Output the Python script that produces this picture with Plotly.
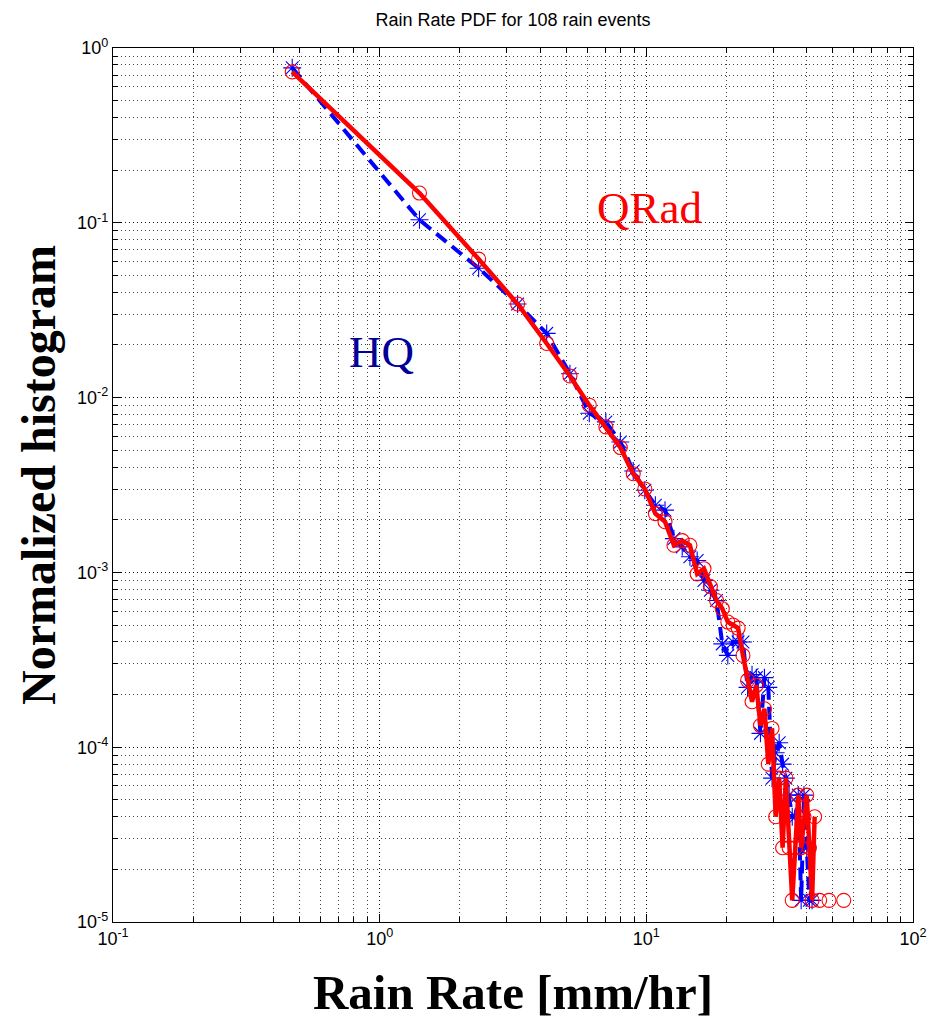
import plotly.graph_objects as go

rain_rate = [0.47, 1.41, 2.35, 3.29, 4.23, 5.17, 6.11, 7.05, 7.99, 8.93,
             9.87, 10.81, 11.75, 12.69, 13.63, 14.57, 15.51, 16.45, 17.39, 18.33,
             19.27, 20.21, 21.15, 22.09, 23.03, 23.97, 24.91, 25.85, 26.79, 27.73,
             28.67, 29.61, 30.55, 31.49, 32.43, 33.37, 34.31, 35.25, 36.19, 37.13,
             38.07, 39.01, 39.95, 40.89, 41.83, 42.77, 43.71, 44.65, 45.59, 46.53,
             47.47, 48.41, 49.35, 50.29, 51.23, 52.17, 53.11, 54.05, 54.99]

qrad = [0.73, 0.148, 0.062, 0.0343, 0.0204, 0.0133, 0.00905, 0.0068, 0.00518, 0.00367,
        0.0030, 0.00217, 0.00195, 0.00143, 0.00152, 0.00143, 0.00098, 0.00105, 0.00083, 0.00069,
        0.00062, 0.00052, 0.00050, 0.00048, 0.000335, 0.000241, 0.000182, 0.000226, 0.000133, 0.000166,
        0.0000800, 0.000128, 0.0000400, 0.0000665, 0.0000266, 0.0000665, 0.0000266, 0.0000133, 0.0000266, 0.0000532,
        0.0000266, 0.0000400, 0.0000532, 0.0000266, 0.0000133, 0.0000400, None, 0.0000133, None, None,
        None, 0.0000133, None, None, None, None, None, None, 0.0000133]

hq = [0.77, 0.104, 0.055, 0.0343, 0.0233, 0.0137, 0.00814, 0.00726, 0.00557, 0.0038,
      0.00295, 0.00242, 0.00227, 0.00156, 0.0014, 0.00123, 0.00117, 0.0009, 0.00079, 0.00069,
      0.00039, 0.000335, 0.0004, 0.0004, 0.0004, 0.00022, 0.00026, 0.00025, 0.00012, 0.00025,
      0.00022, 0.0000665, 0.000093, 0.000106, 0.00008, 0.0000665, 0.0000532, 0.00004, 0.00004, 0.0000532,
      0.0000133, 0.0000532, 0.0000266, 0.0000133, 0.0000133, None, None, None, None, None,
      None, None, None, None, None, None, None, None, None]

x_tickvals = [0.1, 1, 10, 100]
x_ticktext = ["10<sup>-1</sup>", "10<sup>0</sup>", "10<sup>1</sup>", "10<sup>2</sup>"]
y_tickvals = [1e-5, 1e-4, 1e-3, 1e-2, 1e-1, 1]
y_ticktext = ["10<sup>-5</sup>", "10<sup>-4</sup>", "10<sup>-3</sup>", "10<sup>-2</sup>",
              "10<sup>-1</sup>", "10<sup>0</sup>"]

fig = go.Figure()
fig.add_trace(go.Scatter(
    x=rain_rate, y=hq, mode="lines+markers", name="HQ", connectgaps=False,
    line=dict(color="#0000FF", width=4, dash="13px,7px"),
    marker=dict(symbol="asterisk-open", size=15, color="#0000FF",
                line=dict(color="#0000FF", width=1.1)),
))
fig.add_trace(go.Scatter(
    x=rain_rate, y=qrad, mode="lines+markers", name="QRad", connectgaps=False,
    line=dict(color="#FF0000", width=4.5),
    marker=dict(symbol="circle-open", size=14, color="#FF0000",
                line=dict(color="#FF0000", width=1.1)),
))

grid_col = "rgba(0,0,0,0.75)"
axis_common = dict(
    type="log", showline=True, linecolor="black", linewidth=1.3, mirror="allticks",
    ticks="inside", ticklen=8, tickcolor="black", tickwidth=1,
    showgrid=True, gridcolor=grid_col, griddash="1px,3px", gridwidth=1,
    zeroline=False,
    tickfont=dict(family="Liberation Sans, Arial", size=18, color="black"),
    minor=dict(dtick="D1", ticks="inside", ticklen=5, tickcolor="black",
               showgrid=True, gridcolor=grid_col, griddash="1px,3px", gridwidth=1),
)

fig.update_xaxes(range=[-1, 2], tickvals=x_tickvals, ticktext=x_ticktext,
                 title=dict(text="<b>Rain Rate [mm/hr]</b>", standoff=26,
                            font=dict(family="Liberation Serif, Times New Roman", size=49, color="black")),
                 **axis_common)
fig.update_yaxes(range=[-5, 0], tickvals=y_tickvals, ticktext=y_ticktext, **axis_common)

fig.add_annotation(text="<b>Normalized histogram</b>", xref="paper", yref="paper",
                   x=-0.093, y=0.511, textangle=-90, showarrow=False,
                   xanchor="center", yanchor="middle",
                   font=dict(family="Liberation Serif, Times New Roman", size=48, color="black"))
fig.add_annotation(text="QRad", xref="paper", yref="paper", x=0.671, y=0.817,
                   showarrow=False, xanchor="center", yanchor="middle",
                   font=dict(family="Liberation Serif, Times New Roman", size=45, color="#FF0000"))
fig.add_annotation(text="HQ", xref="paper", yref="paper", x=0.336, y=0.652,
                   showarrow=False, xanchor="center", yanchor="middle",
                   font=dict(family="Liberation Serif, Times New Roman", size=45, color="#000099"))

fig.update_layout(
    width=939, height=1027,
    margin=dict(l=113, r=18, t=48, b=105),
    paper_bgcolor="white", plot_bgcolor="white",
    showlegend=False,
    title=dict(text="Rain Rate PDF for 108 rain events", x=0.5, xref="paper",
               y=1 - 20 / 1027, yref="container", yanchor="middle", xanchor="center",
               font=dict(family="Liberation Sans, Arial", size=18, color="black")),
)

fig.write_html("out.html")
